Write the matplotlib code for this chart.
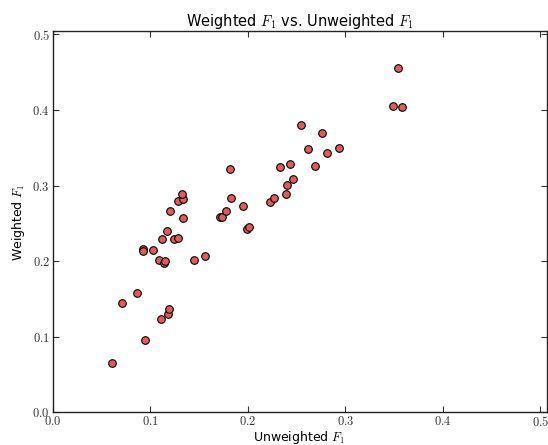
import matplotlib
matplotlib.use("Agg")
import matplotlib.pyplot as plt
from matplotlib.ticker import FuncFormatter, MultipleLocator

plt.rcParams['mathtext.fontset'] = 'cm'
plt.rcParams['font.family'] = ['DejaVu Sans']

unweighted_f1 = [0.0605, 0.0711, 0.0868, 0.0947, 0.0923, 0.0926, 0.1029, 0.1094,
                 0.1138, 0.1155, 0.1107, 0.1180, 0.1190, 0.1118, 0.1169, 0.1203,
                 0.1248, 0.1285, 0.1288, 0.1336, 0.1326, 0.1340, 0.1452, 0.1559,
                 0.1716, 0.1740, 0.1774, 0.1832, 0.1818, 0.1955, 0.1990, 0.2016,
                 0.2225, 0.2267, 0.2396, 0.2400, 0.2462, 0.2334, 0.2437, 0.2544,
                 0.2615, 0.2759, 0.2690, 0.2810, 0.2933, 0.3493, 0.3580, 0.3538]
weighted_f1 = [0.0656, 0.1450, 0.1580, 0.0956, 0.2160, 0.2130, 0.2147, 0.2014,
               0.1979, 0.2001, 0.1238, 0.1300, 0.1366, 0.2292, 0.2402, 0.2663,
               0.2292, 0.2310, 0.2799, 0.2817, 0.2892, 0.2566, 0.2014, 0.2063,
               0.2579, 0.2583, 0.2659, 0.2839, 0.3218, 0.2733, 0.2420, 0.2447,
               0.2782, 0.2831, 0.2892, 0.3003, 0.3082, 0.3249, 0.3288, 0.3800,
               0.3487, 0.3690, 0.3262, 0.3426, 0.3500, 0.4048, 0.4043, 0.4558]

fig = plt.figure(figsize=(5.48, 4.45), dpi=100)
ax = fig.add_axes([0.0962, 0.0735, 0.9014, 0.8562])
ax.scatter(unweighted_f1, weighted_f1, s=30, c='#E05C5C', edgecolors='black',
           linewidths=0.8, zorder=3)

ax.set_xlim(0, 0.5065)
ax.set_ylim(0, 0.504)
ax.xaxis.set_major_locator(MultipleLocator(0.1))
ax.yaxis.set_major_locator(MultipleLocator(0.1))
fmt = FuncFormatter(lambda v, p: r'$%.1f$' % v)
ax.xaxis.set_major_formatter(fmt)
ax.yaxis.set_major_formatter(fmt)
ax.tick_params(direction='in', top=True, right=True, length=4, width=0.8,
               labelsize=9, pad=2, colors='#333333', labelcolor='#333333')
for sp in ax.spines.values():
    sp.set_linewidth(1.0)
    sp.set_color('#222222')

ax.set_title(r'Weighted $F_1$ vs. Unweighted $F_1$', fontsize=10.5, pad=4)
ax.set_xlabel(r'Unweighted $F_1$', fontsize=9, labelpad=0)
ax.set_ylabel(r'Weighted $F_1$', fontsize=9, labelpad=4)

fig.savefig('out.png', dpi=100)
